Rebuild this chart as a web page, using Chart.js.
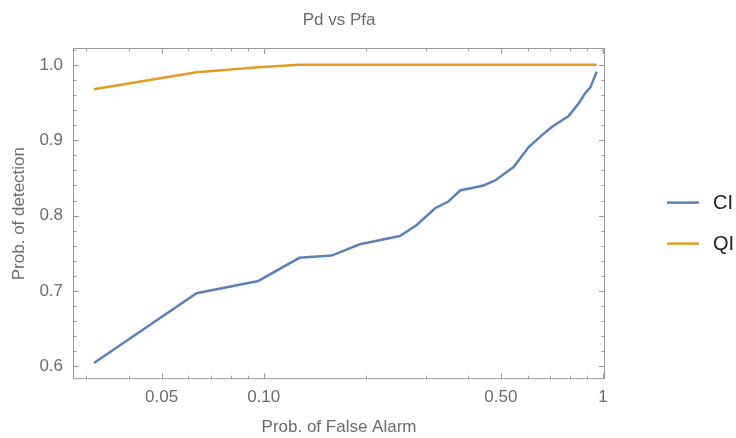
<!DOCTYPE html>
<html>
<head>
<meta charset="utf-8">
<script src="https://cdn.jsdelivr.net/npm/chart.js@4"></script>
<style>
  html, body { margin: 0; padding: 0; background: #fff; }
  #wrap { width: 736px; height: 438px; }
</style>
</head>
<body>
<div id="wrap"><canvas id="chart"></canvas></div>
<script>
// data
const pfa = [0.0316, 0.0634, 0.0964, 0.1274, 0.1585, 0.192, 0.252, 0.2825, 0.320, 0.350, 0.3795,
  0.4446, 0.481, 0.545, 0.604, 0.661, 0.708, 0.792, 0.848, 0.885, 0.918, 0.958];
const ciPd = [0.6044, 0.697, 0.7133, 0.744, 0.747, 0.762, 0.773, 0.7876, 0.8098, 0.8187, 0.8333,
  0.840, 0.8467, 0.8644, 0.891, 0.9067, 0.9178, 0.932, 0.949, 0.962, 0.970, 0.991];
const qiPd = [0.9676, 0.990, 0.9969, 1.0, 1.0, 1.0, 1.0, 1.0, 1.0, 1.0, 1.0,
  1.0, 1.0, 1.0, 1.0, 1.0, 1.0, 1.0, 1.0, 1.0, 1.0, 1.0];

const seriesNames = ['CI', 'QI'];
const seriesColors = ['#5E81B5', '#E19C24'];

const xTicks = [0.05, 0.1, 0.5, 1];
const xTickLabels = ['0.05', '0.10', '0.50', '1'];
const xMinorTicks = [0.03, 0.04, 0.06, 0.07, 0.08, 0.09, 0.2, 0.3, 0.4, 0.6, 0.7, 0.8, 0.9];
const yTicks = [0.6, 0.7, 0.8, 0.9, 1.0];
const yMinorTicks = [0.62, 0.64, 0.66, 0.68, 0.72, 0.74, 0.76, 0.78, 0.82, 0.84, 0.86, 0.88,
  0.92, 0.94, 0.96, 0.98, 1.02];

const grey = '#6b6b6b';
const frameColor = '#9a9a9a';
const font = 'Liberation Sans, Arial, sans-serif';

// Mathematica-ish frame with inward ticks on every side
const frameTicks = {
  id: 'frameTicks',
  beforeDatasetsDraw(chart) {
    const { ctx, chartArea: a, scales } = chart;
    ctx.save();
    ctx.strokeStyle = frameColor;
    ctx.lineWidth = 1;
    ctx.strokeRect(a.left + 0.5, a.top + 0.5, a.right - a.left - 1, a.bottom - a.top - 1);
    const tick = (x1, y1, x2, y2) => {
      ctx.beginPath(); ctx.moveTo(x1, y1); ctx.lineTo(x2, y2); ctx.stroke();
    };
    const xs = scales.x, ys = scales.y;
    xTicks.concat(xMinorTicks).forEach(v => {
      const len = xTicks.includes(v) ? 6 : 3.5;
      const px = Math.round(xs.getPixelForValue(v)) + 0.5;
      tick(px, a.bottom, px, a.bottom - len);
      tick(px, a.top, px, a.top + len);
    });
    yTicks.concat(yMinorTicks).forEach(v => {
      const len = yTicks.includes(v) ? 6 : 3.5;
      const py = Math.round(ys.getPixelForValue(v)) + 0.5;
      tick(a.left, py, a.left + len, py);
      tick(a.right, py, a.right - len, py);
    });
    ctx.restore();
  }
};

// legend to the right of the frame
const sideLegend = {
  id: 'sideLegend',
  afterDraw(chart) {
    const { ctx, chartArea: a } = chart;
    const midY = (a.top + a.bottom) / 2 + 9.5;
    ctx.save();
    chart.data.datasets.forEach((ds, i) => {
      const y = midY + (i - 0.5) * 41;
      const x0 = a.right + 62;
      ctx.strokeStyle = ds.borderColor;
      ctx.lineWidth = 2.5;
      ctx.beginPath(); ctx.moveTo(x0, y); ctx.lineTo(x0 + 32, y); ctx.stroke();
      ctx.fillStyle = '#222';
      ctx.font = '20px ' + font;
      ctx.textBaseline = 'middle';
      ctx.fillText(ds.label, x0 + 46, y + 1);
    });
    ctx.restore();
  }
};

const datasets = [ciPd, qiPd].map((vals, i) => ({
  label: seriesNames[i],
  data: pfa.map((x, j) => ({ x: x, y: vals[j] })),
  borderColor: seriesColors[i],
  backgroundColor: seriesColors[i],
  borderWidth: 2.5,
  pointRadius: 0,
  tension: 0,
  fill: false
}));

new Chart(document.getElementById('chart'), {
  type: 'line',
  data: { datasets },
  plugins: [frameTicks, sideLegend],
  options: {
    responsive: true,
    maintainAspectRatio: false,
    animation: false,
    layout: { padding: { left: 5, right: 131, top: 0, bottom: 0 } },
    plugins: {
      legend: { display: false },
      tooltip: { enabled: false },
      title: {
        display: true,
        text: 'Pd vs Pfa',
        color: grey,
        fullSize: false,
        font: { family: font, size: 17, weight: 'normal' },
        padding: { top: 10, bottom: 17.6 }
      }
    },
    scales: {
      x: {
        type: 'logarithmic',
        min: 0.02742,
        max: 1.0137,
        grid: { display: false, drawTicks: false },
        border: { display: false },
        afterBuildTicks: s => { s.ticks = xTicks.map(v => ({ value: v })); },
        ticks: {
          color: grey,
          font: { family: font, size: 17 },
          padding: 8,
          autoSkip: false,
          maxRotation: 0,
          callback: v => {
            const i = xTicks.findIndex(t => Math.abs(t - v) < 1e-9);
            return i >= 0 ? xTickLabels[i] : '';
          }
        },
        title: {
          display: true,
          text: 'Prob. of False Alarm',
          color: grey,
          font: { family: font, size: 17 },
          padding: { top: 2, bottom: 0 }
        }
      },
      y: {
        type: 'linear',
        min: 0.583,
        max: 1.0223,
        grid: { display: false, drawTicks: false },
        border: { display: false },
        afterBuildTicks: s => { s.ticks = yTicks.map(v => ({ value: v })); },
        ticks: {
          color: grey,
          font: { family: font, size: 17 },
          padding: 10,
          callback: v => Number(v).toFixed(1)
        },
        title: {
          display: true,
          text: 'Prob. of detection',
          color: grey,
          font: { family: font, size: 17 },
          padding: { top: 4, bottom: 0 }
        }
      }
    }
  }
});
</script>
</body>
</html>
